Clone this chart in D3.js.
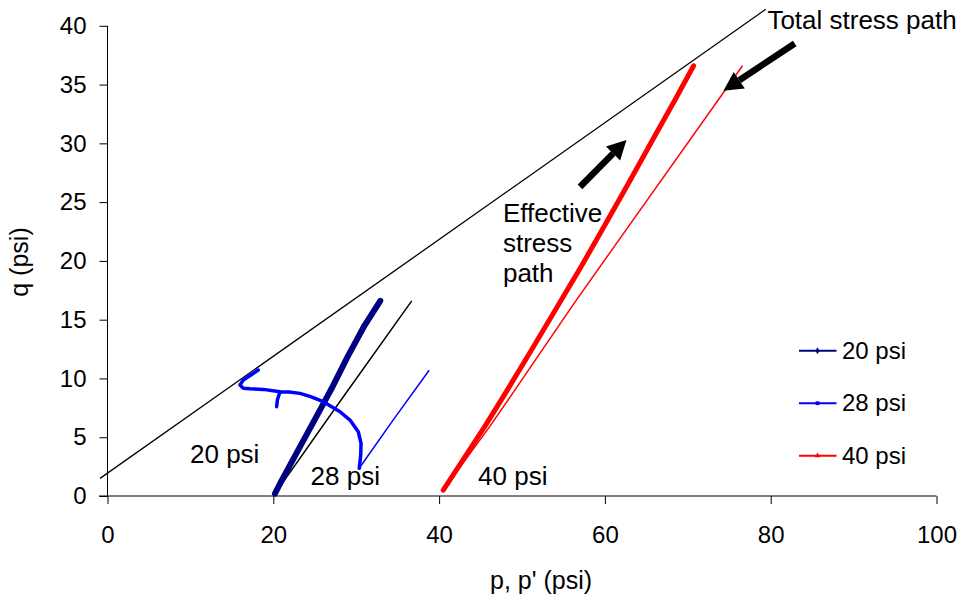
<!DOCTYPE html>
<html>
<head>
<meta charset="utf-8">
<script src="https://cdn.jsdelivr.net/npm/d3@7"></script>
<style>
  body { margin: 0; background: #fff; }
  text { font-family: "Liberation Sans", Arial, sans-serif; fill: #000; }
</style>
</head>
<body>
<div id="chart"></div>
<script>
// effective and total stress paths, p = x, q = y (psi)
const p20Eff = [20.2, 21.0, 22.0, 23.0, 24.0, 25.0, 26.0, 27.0, 28.0, 29.0, 30.0, 31.0, 32.0, 32.9];
const q20Eff = [0.2, 1.3, 2.6, 3.9, 5.2, 6.5, 7.8, 9.1, 10.5, 11.9, 13.2, 14.5, 15.6, 16.6];
const p20Tot = [20.1, 28.0, 36.7];
const q20Tot = [0.1, 8.0, 16.6];

const p28Eff = [30.37, 30.55, 30.58, 30.25, 29.25, 28.05, 26.03, 24.5, 23.22, 21.9, 20.81, 20.5, 20.4, 20.5, 20.81, 18.79, 17.2, 16.38, 15.98, 16.38, 17.3, 18.19];
const q28Eff = [2.36, 3.5, 4.48, 5.47, 6.46, 7.17, 8.02, 8.45, 8.73, 8.85, 8.87, 8.2, 7.6, 8.2, 8.87, 9.07, 9.12, 9.16, 9.44, 9.87, 10.3, 10.72];
const p28Tot = [30.4, 34.6, 38.8];
const q28Tot = [2.4, 6.6, 10.7];

const p40Eff = [40.5, 43.0, 45.5, 48.0, 51.0, 54.0, 57.0, 60.0, 63.0, 66.0, 68.5, 70.7];
const q40Eff = [0.5, 3.2, 5.9, 8.75, 12.25, 15.8, 19.35, 23.05, 26.8, 30.6, 33.75, 36.6];
const p40Tot = [40.5, 46.1, 48.6, 53.0, 56.6, 60.8, 76.6];
const q40Tot = [0.5, 5.9, 8.45, 13.0, 16.7, 20.9, 36.6];

// failure envelope drawn as a straight line
const failP = [-0.9, 79.4];
const failQ = [1.5, 41.4];

const xTicks = [0, 20, 40, 60, 80, 100];
const yTicks = [0, 5, 10, 15, 20, 25, 30, 35, 40];
const legendNames = ["20 psi", "28 psi", "40 psi"];
const legendColors = ["#000080", "#0000ff", "#ff0000"];

const width = 966, height = 606;
const svg = d3.select("#chart").append("svg")
  .attr("width", width).attr("height", height);

const x = d3.scaleLinear().domain([0, 100]).range([107.5, 936.5]);
const y = d3.scaleLinear().domain([0, 40]).range([496, 25.8]);

const zip = (ps, qs) => ps.map((p, i) => [p, qs[i]]);
const line = d3.line().x(d => x(d[0])).y(d => y(d[1]));

// axes
svg.append("g")
  .attr("transform", "translate(0,496)")
  .call(d3.axisBottom(x).tickValues(xTicks).tickSize(8).tickPadding(22).tickFormat(d3.format("d")))
  .call(g => g.select(".domain").attr("d", "M99,0H936.5"))
  .call(g => g.selectAll("text").attr("font-size", 24).attr("font-family", "Liberation Sans, Arial"));

svg.append("g")
  .attr("transform", "translate(107.5,0)")
  .call(d3.axisLeft(y).tickValues(yTicks).tickSize(8).tickPadding(13).tickFormat(d3.format("d")))
  .call(g => g.select(".domain").attr("d", "M0,25.8V496"))
  .call(g => g.selectAll("text").attr("font-size", 24).attr("font-family", "Liberation Sans, Arial"));

svg.append("text")
  .attr("x", 541).attr("y", 589)
  .attr("text-anchor", "middle")
  .attr("font-size", 25)
  .text("p, p' (psi)");

svg.append("text")
  .attr("transform", "translate(28,262) rotate(-90)")
  .attr("text-anchor", "middle")
  .attr("font-size", 25)
  .text("q (psi)");

// failure line
svg.append("path")
  .attr("d", line(zip(failP, failQ)))
  .attr("fill", "none").attr("stroke", "#000").attr("stroke-width", 1.3);

// total stress paths (thin)
const totals = [
  [zip(p20Tot, q20Tot), "#000"],
  [zip(p28Tot, q28Tot), "#0000ff"],
  [zip(p40Tot, q40Tot), "#ff0000"]
];
totals.forEach(t => {
  svg.append("path").attr("d", line(t[0]))
    .attr("fill", "none").attr("stroke", t[1]).attr("stroke-width", 1.5);
});

// effective stress paths (thick)
const effs = [
  [zip(p20Eff, q20Eff), "#000080", 6],
  [zip(p28Eff, q28Eff), "#0000ff", 3.5],
  [zip(p40Eff, q40Eff), "#ff0000", 5]
];
effs.forEach(e => {
  svg.append("path").attr("d", line(e[0]))
    .attr("fill", "none").attr("stroke", e[1]).attr("stroke-width", e[2])
    .attr("stroke-linecap", "round").attr("stroke-linejoin", "round");
});

// text labels placed in data coordinates
const labels = [
  ["20 psi", 9.95, 2.83],
  ["28 psi", 24.5, 0.94],
  ["40 psi", 44.7, 0.94],
  ["Effective", 47.7, 23.33],
  ["stress", 47.7, 20.78],
  ["path", 47.7, 18.23],
  ["Total stress path", 79.6, 39.7]
];
svg.selectAll(".lbl").data(labels).enter().append("text")
  .attr("class", "lbl")
  .attr("x", d => x(d[1])).attr("y", d => y(d[2]))
  .attr("font-size", 26)
  .text(d => d[0]);

// arrows
const arrows = [
  [[57.0, 26.3], [62.6, 30.28]],
  [[82.9, 38.5], [74.3, 34.47]]
];
arrows.forEach(a => {
  const x0 = x(a[0][0]), y0 = y(a[0][1]), x1 = x(a[1][0]), y1 = y(a[1][1]);
  const ang = Math.atan2(y1 - y0, x1 - x0);
  const headL = 19, headW = 10;
  const bx = x1 - headL * Math.cos(ang), by = y1 - headL * Math.sin(ang);
  svg.append("line")
    .attr("x1", x0).attr("y1", y0).attr("x2", bx).attr("y2", by)
    .attr("stroke", "#000").attr("stroke-width", 6.5);
  const nx = -Math.sin(ang), ny = Math.cos(ang);
  svg.append("path")
    .attr("d", `M${x1},${y1}L${bx + nx * headW},${by + ny * headW}L${bx - nx * headW},${by - ny * headW}Z`)
    .attr("fill", "#000");
});

// legend
const legend = svg.append("g");
legendNames.forEach((name, i) => {
  const ly = 350.7 + i * 52.5;
  legend.append("line")
    .attr("x1", 799).attr("x2", 836.5).attr("y1", ly).attr("y2", ly)
    .attr("stroke", legendColors[i]).attr("stroke-width", 2);
  const sym = [d3.symbolDiamond, d3.symbolSquare, d3.symbolTriangle][i];
  legend.append("path")
    .attr("d", d3.symbol().type(sym).size(14)())
    .attr("transform", `translate(817.5,${ly})`)
    .attr("fill", legendColors[i]);
  legend.append("text")
    .attr("x", 842).attr("y", ly + 8)
    .attr("font-size", 24)
    .text(name);
});
</script>
</body>
</html>
